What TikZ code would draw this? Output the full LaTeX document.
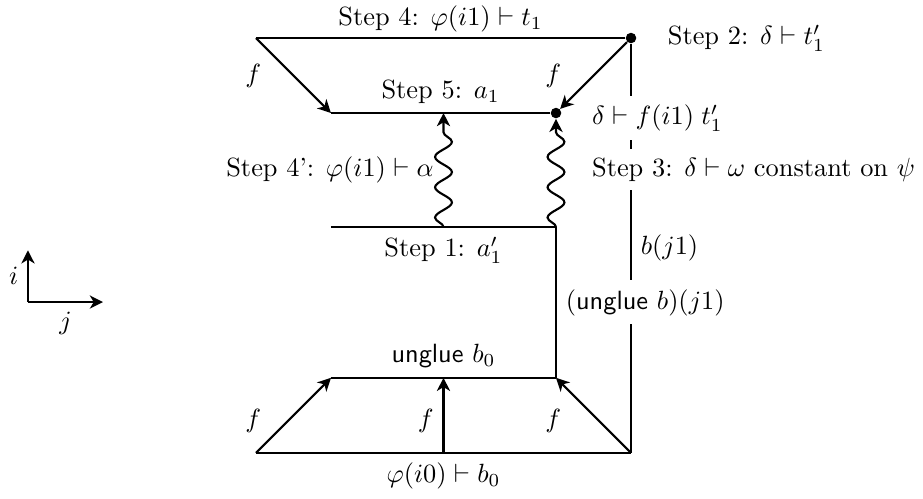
\documentclass[tikz,border=0pt]{standalone}
\usepackage{amsmath, amssymb}
\usepackage{tikz}
\usetikzlibrary{arrows.meta, decorations.pathmorphing, positioning}

\begin{document}
\begin{tikzpicture}[
    >={Stealth[length=5pt, width=5pt, inset=1.5pt]},
    edge/.style={thick},
    map/.style={thick, ->},
    squig/.style={thick, ->, decorate,
                  decoration={snake, amplitude=3.2pt, segment length=11.5pt,
                              post length=4pt}},
    dot/.style={circle, fill, inner sep=0pt, minimum size=4pt},
    cover/.style={fill=white},
]
    \useasboundingbox (-3.413, 0.507) rectangle (8.893, -6.133);

    % Corners
    \coordinate (tl) at (0, 0);
    \node[dot] (tr) at (5, 0) {};
    \coordinate (al) at (1, -1);
    \node[dot] (ar) at (4, -1) {};
    \coordinate (am) at (2.5, -1);
    \coordinate (pl) at (1, -2.52);
    \coordinate (pm) at (2.5, -2.52);
    \coordinate (pr) at (4, -2.52);
    \coordinate (ul) at (1, -4.53);
    \coordinate (um) at (2.5, -4.53);
    \coordinate (ur) at (4, -4.53);
    \coordinate (bl) at (0, -5.53);
    \coordinate (bm) at (2.5, -5.53);
    \coordinate (br) at (5, -5.53);

    % Frame
    \draw[edge] (tr) -- node[right] (bj) {$b(j1)$} (br);
    \draw[edge] (tl) -- node[above=-1.5pt] (s4) {Step 4: $\varphi(i1)\vdash t_1$} (tr);
    \draw[edge] (al) -- node[above] (s5) {Step 5: $a_1$} (ar);
    \draw[edge] (pl) -- node[below] (s1) {Step 1: $a'_1$} (pr);
    \draw[edge] (pr) -- node[right, cover] (ub) {$(\textsf{unglue}\ b)(j1)$} (ur);
    \draw[edge] (ul) -- node[above] (u0) {$\textsf{unglue}\ b_0$} (ur);
    \draw[edge] (bl) -- node[below] (b0) {$\varphi(i0)\vdash b_0$} (br);

    % Maps
    \draw[map] (tl) -- node[left=0.3cm] {$f$} (al);
    \draw[map] (tr) -- node[left=0.3cm] {$f$} (ar);
    \draw[map] (bl) -- node[left=0.3cm, yshift=-2pt] {$f$} (ul);
    \draw[map] (bm) -- node[left, yshift=-2pt] {$f$} (um);
    \draw[map] (br) -- node[left=0.3cm, yshift=-2pt] {$f$} (ur);

    % Paths
    \draw[squig] (pm) -- node[left] (s4p) {Step 4': $\varphi(i1)\vdash\alpha$} (am);
    \draw[squig] (pr) -- (ar);

    % Side labels
    \node[right=0.29cm of tr] (s2) {Step 2: $\delta\vdash t'_1$};
    \node[cover, right=0.28cm of ar, yshift=-2pt] (fi) {$\delta\vdash f(i1)\;t'_1$};
    \node[cover, below=0.1cm of fi.south west, anchor=north west] (s3)
        {Step 3: $\delta\vdash\omega$ constant on $\psi$};

    % Axes
    \coordinate (o) at (-3.04, -3.52);
    \coordinate (ia) at (-3.04, -2.83);
    \coordinate (ja) at (-2.04, -3.52);
    \draw[map] (o) -- node[left] {$i$} (ia);
    \draw[map] (o) -- node[below] {$j$} (ja);
\end{tikzpicture}
\end{document}
